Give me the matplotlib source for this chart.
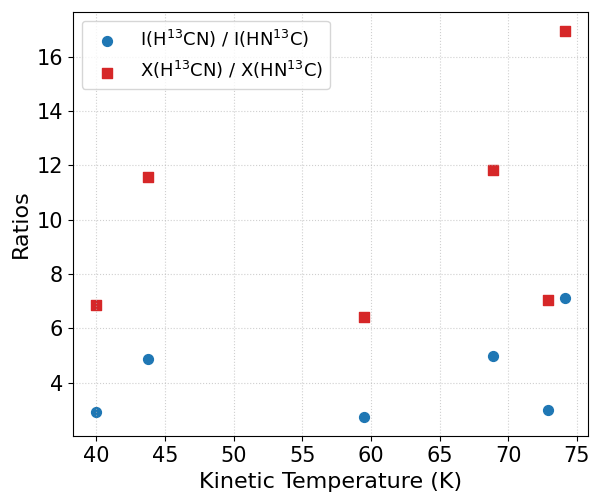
import matplotlib
matplotlib.use("Agg")
import matplotlib.pyplot as plt

temps = [40.0, 43.75, 59.5, 68.85, 72.9, 74.1]
intensity_ratio = [2.9, 4.86, 2.73, 4.97, 2.97, 7.13]
abundance_ratio = [6.87, 11.57, 6.41, 11.82, 7.06, 16.95]

fig, ax = plt.subplots(figsize=(5.97, 4.93), dpi=100)
ax.scatter(temps, intensity_ratio, color='#1f77b4', marker='o', s=50,
           label=r'I(H$^{13}$CN) / I(HN$^{13}$C)')
ax.scatter(temps, abundance_ratio, color='#d62728', marker='s', s=50,
           label=r'X(H$^{13}$CN) / X(HN$^{13}$C)')
ax.set_xlabel('Kinetic Temperature (K)', fontsize=16)
ax.set_ylabel('Ratios', fontsize=16)
ax.tick_params(labelsize=15)
ax.grid(True, linestyle=':', alpha=0.6)
ax.legend(fontsize=13, loc='upper left')
fig.subplots_adjust(left=0.122, right=0.985, top=0.976, bottom=0.115)
fig.savefig('out.png', dpi=100)
